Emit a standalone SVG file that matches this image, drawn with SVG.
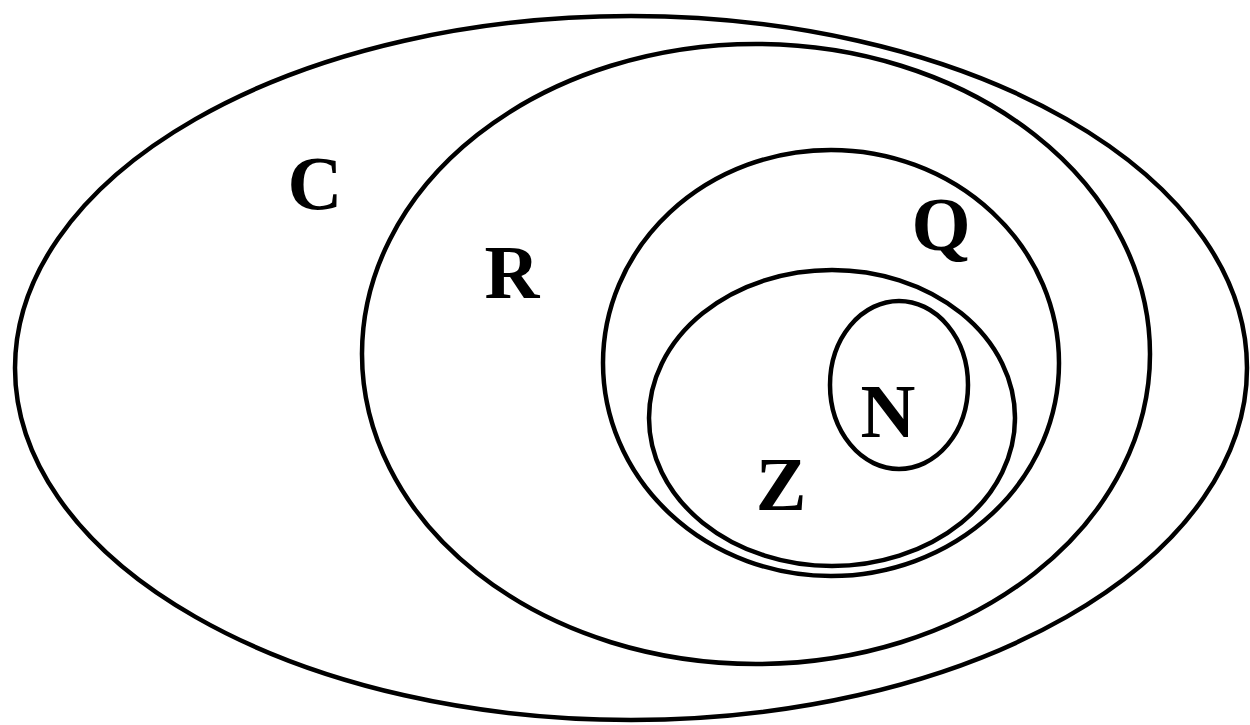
<svg xmlns="http://www.w3.org/2000/svg" width="1250" height="725" viewBox="0 0 1250 725">
<style>
.set{fill:none;stroke:#000;stroke-width:4.5}
.lbl{font-family:"Liberation Serif","Times New Roman",serif;font-weight:bold;font-size:76px;fill:#000;text-anchor:middle}
</style>
<rect width="1250" height="725" fill="#fff"/>
<g id="C"><ellipse class="set" cx="631" cy="368" rx="616" ry="352"/><text class="lbl" x="315" y="209">C</text></g>
<g id="R"><ellipse class="set" cx="756" cy="354" rx="394" ry="310"/><text class="lbl" x="512" y="298">R</text></g>
<g id="Q"><ellipse class="set" cx="831" cy="363" rx="228" ry="213"/><text class="lbl" x="941" y="250">Q</text></g>
<g id="Z"><ellipse class="set" cx="832" cy="418" rx="183" ry="148"/><text class="lbl" x="781" y="510">Z</text></g>
<g id="N"><ellipse class="set" cx="899" cy="385" rx="69" ry="84"/><text class="lbl" x="888" y="437">N</text></g>
<g id="connectors"/>
</svg>
